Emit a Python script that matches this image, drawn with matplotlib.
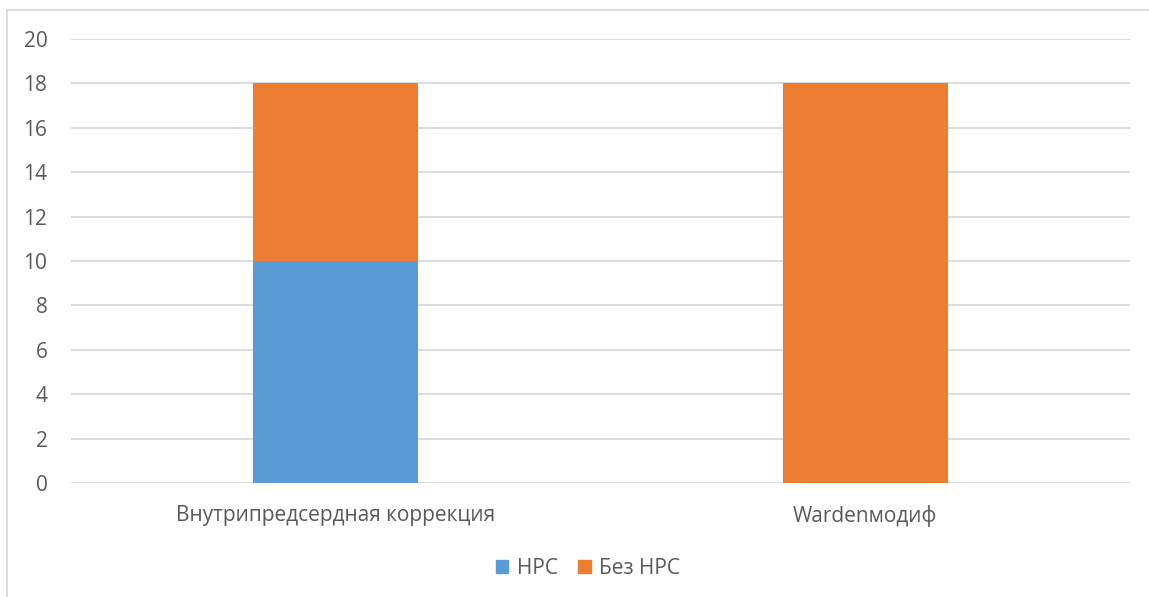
import matplotlib
matplotlib.use("Agg")
import matplotlib.pyplot as plt
from matplotlib.lines import Line2D
from matplotlib.patches import Patch
import numpy as np

categories = ["Внутрипредсердная коррекция", "Wardenмодиф"]
series_names = ["НРС", "Без НРС"]
nrs = [10, 0]
bez_nrs = [8, 18]
yticks = [0, 2, 4, 6, 8, 10, 12, 14, 16, 18, 20]

colors = ["#5B9BD5", "#ED7D31"]
text_color = "#595959"
grid_color = "#D9D9D9"

plt.rcParams['font.family'] = ['Open Sans', 'DejaVu Sans']

W, H = 1149, 597
fig = plt.figure(figsize=(W / 100, H / 100), dpi=100)
ax = fig.add_axes([71 / W, 1 - 483 / H, (1130 - 71) / W, (483 - 39) / H])

x = np.arange(len(categories))
width = 0.312
ax.bar(x, nrs, width, color=colors[0], label=series_names[0], zorder=3)
ax.bar(x, bez_nrs, width, bottom=nrs, color=colors[1], label=series_names[1], zorder=3)

ax.set_xlim(-0.5, 1.5)
ax.set_ylim(0, 20)
ax.set_yticks(yticks)
ax.set_yticklabels([str(v) for v in yticks])
ax.set_xticks(x)
ax.set_xticklabels(categories)
ax.yaxis.grid(True, color=grid_color, linewidth=1.3, zorder=0)
ax.set_axisbelow(True)
for s in ax.spines.values():
    s.set_visible(False)
ax.tick_params(axis='both', length=0, colors=text_color, labelsize=15)
ax.tick_params(axis='y', pad=17)
ax.tick_params(axis='x', pad=16)

handles = [Patch(color=colors[0]), Patch(color=colors[1])]
fig.legend(handles, series_names, loc='center', bbox_to_anchor=(588 / W, 1 - 568 / H),
           ncol=2, frameon=False, fontsize=15, labelcolor=text_color,
           handlelength=0.6, handleheight=0.6, handletextpad=0.4, columnspacing=1.0)

# chart border (left and top visible)
fig.add_artist(Line2D([7 / W, 7 / W], [0, 1 - 10 / H], color="#D9D9D9", linewidth=1.3, transform=fig.transFigure))
fig.add_artist(Line2D([7 / W, 1], [1 - 10 / H, 1 - 10 / H], color="#D9D9D9", linewidth=1.3, transform=fig.transFigure))

fig.savefig("out.png", dpi=100, facecolor="white")
